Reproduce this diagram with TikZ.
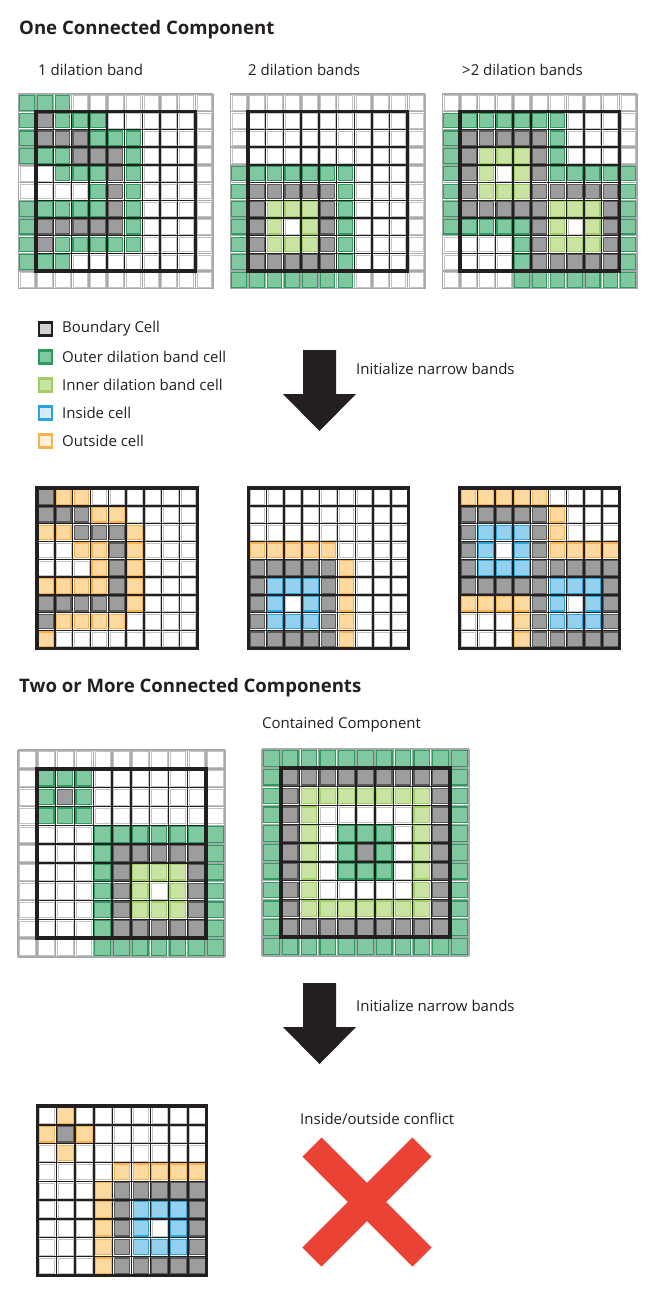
\documentclass[tikz,border=0pt]{standalone}
\usepackage{fontspec}
\setmainfont{Open Sans}
\usetikzlibrary{positioning}

\definecolor{ink}{HTML}{231F20}
\definecolor{gridgray}{HTML}{A7A9AC}
\definecolor{outerfill}{HTML}{80C9A0}
\definecolor{outerline}{HTML}{2E9B5E}
\definecolor{innerfill}{HTML}{C9E3A2}
\definecolor{innerline}{HTML}{9FCE63}
\definecolor{bndfill}{HTML}{9D9D9D}
\definecolor{bndline}{HTML}{5A5A5A}
\definecolor{insfill}{HTML}{93D1EE}
\definecolor{insline}{HTML}{2EA3D8}
\definecolor{outfill}{HTML}{FDD9A0}
\definecolor{outline}{HTML}{F7B24F}
\definecolor{crossred}{HTML}{EA4335}

\tikzset{
  cellW/.style={fill=white, draw=gridgray!70, line width=0.6},
  cellG/.style={fill=outerfill, draw=outerline, line width=1.1},
  cellL/.style={fill=innerfill, draw=innerline, line width=1.1},
  cellB/.style={fill=bndfill, draw=bndline, line width=1.1},
  cellI/.style={fill=insfill, draw=insline, line width=1.1},
  cellO/.style={fill=outfill, draw=outline, line width=1.1},
  thinline/.style={draw=gridgray, line width=1.4},
  darkline/.style={draw=ink, line width=1.4},
  frame/.style={draw=ink, line width=3.4},
  label/.style={anchor=west, inner sep=0pt, text=ink, font=\fontsize{15}{18}\selectfont},
  title/.style={anchor=west, inner sep=0pt, text=ink, font=\fontsize{18.6}{22}\selectfont\bfseries},
  legendbox/.style={minimum size=13pt, inner sep=0pt, line width=2.2},
  bigarrow/.style={fill=ink}
}

% cells: x, y, size, rows
\newcommand{\cellrows}[4]{%
  \foreach \row [count=\j from 0] in {#4} {
    \foreach \c [count=\i from 0] in \row {
      \path[cell\c] ({#1+\i*#3+1.6},{#2+\j*#3+1.6}) rectangle ++({#3-3.2},{#3-3.2});
    }
  }
}
% 11x11 grid with bold 9x9 frame
\newcommand{\bandgrid}[4]{%
  \foreach \k in {0,...,11} {
    \path[thinline] ({#1+\k*#3},#2) -- ++(0,{11*#3});
    \path[thinline] (#1,{#2+\k*#3}) -- ++({11*#3},0);
  }
  \foreach \k in {2,...,9} {
    \path[darkline] ({#1+\k*#3},{#2+#3}) -- ++(0,{9*#3});
    \path[darkline] ({#1+#3},{#2+\k*#3}) -- ++({9*#3},0);
  }
  \cellrows{#1}{#2}{#3}{#4}
  \path[frame] ({#1+#3},{#2+#3}) rectangle ++({9*#3},{9*#3});
}
% 9x9 grid with bold frame
\newcommand{\initgrid}[4]{%
  \foreach \k in {1,...,8} {
    \path[darkline] ({#1+\k*#3},#2) -- ++(0,{9*#3});
    \path[darkline] (#1,{#2+\k*#3}) -- ++({9*#3},0);
  }
  \cellrows{#1}{#2}{#3}{#4}
  \path[frame] (#1,#2) rectangle ++({9*#3},{9*#3});
}

\begin{document}
\begin{tikzpicture}[x=1pt, y=-1pt]
  \useasboundingbox[fill=white] (0,0) rectangle (656,1294);

  % titles and labels
  \node[title] (oneTitle) at (19,30) {One Connected Component};
  \node[label] (oneBand) at (38,70) {1 dilation band};
  \node[label] (twoBand) at (248,70) {2 dilation bands};
  \node[label] (moreBand) at (462,70) {>2 dilation bands};

  % dilation bands, one component
  \bandgrid{18.3}{94}{17.7}{
    {G,G,G,W,W,W,W,W,W,W,W},
    {G,B,G,G,G,W,W,W,W,W,W},
    {G,B,B,B,G,G,G,W,W,W,W},
    {G,G,G,B,B,B,G,W,W,W,W},
    {W,W,G,G,G,B,G,W,W,W,W},
    {W,W,W,W,G,B,G,W,W,W,W},
    {G,G,G,G,G,B,G,W,W,W,W},
    {G,B,B,B,B,B,G,W,W,W,W},
    {G,B,G,G,G,G,G,W,W,W,W},
    {G,G,G,W,W,W,W,W,W,W,W},
    {W,W,W,W,W,W,W,W,W,W,W}}
  \bandgrid{230.3}{94}{17.7}{
    {W,W,W,W,W,W,W,W,W,W,W},
    {W,W,W,W,W,W,W,W,W,W,W},
    {W,W,W,W,W,W,W,W,W,W,W},
    {W,W,W,W,W,W,W,W,W,W,W},
    {G,G,G,G,G,G,G,W,W,W,W},
    {G,B,B,B,B,B,G,W,W,W,W},
    {G,B,L,L,L,B,G,W,W,W,W},
    {G,B,L,W,L,B,G,W,W,W,W},
    {G,B,L,L,L,B,G,W,W,W,W},
    {G,B,B,B,B,B,G,W,W,W,W},
    {G,G,G,G,G,G,G,W,W,W,W}}
  \bandgrid{442.3}{94}{17.7}{
    {W,W,W,W,W,W,W,W,W,W,W},
    {G,G,G,G,G,G,G,W,W,W,W},
    {G,B,B,B,B,B,G,W,W,W,W},
    {G,B,L,L,L,B,G,W,W,W,W},
    {G,B,L,W,L,B,G,G,G,G,G},
    {G,B,L,L,L,B,B,B,B,B,G},
    {G,B,B,B,B,B,L,L,L,B,G},
    {G,G,G,G,G,B,L,W,L,B,G},
    {W,W,W,W,G,B,L,L,L,B,G},
    {W,W,W,W,G,B,B,B,B,B,G},
    {W,W,W,W,G,G,G,G,G,G,G}}

  % legend
  \node[legendbox, draw=ink, fill=ink!20] (keyBnd) at (45.5,329) {};
  \node[legendbox, draw=outerline, fill=outerfill] (keyOuter) at (45.5,357) {};
  \node[legendbox, draw=innerline, fill=innerfill] (keyInner) at (45.5,385) {};
  \node[legendbox, draw=insline, fill=insfill!40] (keyIns) at (45.5,413) {};
  \node[legendbox, draw=outline, fill=outfill!40] (keyOut) at (45.5,441) {};
  \node[label] (txtBnd) at (62,329) {Boundary Cell};
  \node[label] (txtOuter) at (62,357) {Outer dilation band cell};
  \node[label] (txtInner) at (62,385) {Inner dilation band cell};
  \node[label] (txtIns) at (62,413) {Inside cell};
  \node[label] (txtOut) at (62,441) {Outside cell};

  % first arrow
  \path[bigarrow] (303,350) -- (336,350) -- (336,394) -- (356,394)
    -- (319.5,431) -- (283,394) -- (303,394) -- cycle;
  \node[label] (initOne) at (356,369) {Initialize narrow bands};

  % narrow bands, one component
  \initgrid{37}{488}{17.8}{
    {B,O,O,W,W,W,W,W,W},
    {B,B,B,O,O,W,W,W,W},
    {O,O,B,B,B,O,W,W,W},
    {W,W,O,O,B,O,W,W,W},
    {W,W,W,O,B,O,W,W,W},
    {O,O,O,O,B,O,W,W,W},
    {B,B,B,B,B,O,W,W,W},
    {B,O,O,O,O,W,W,W,W},
    {O,W,W,W,W,W,W,W,W}}
  \initgrid{248.5}{488}{17.8}{
    {W,W,W,W,W,W,W,W,W},
    {W,W,W,W,W,W,W,W,W},
    {W,W,W,W,W,W,W,W,W},
    {O,O,O,O,O,W,W,W,W},
    {B,B,B,B,B,O,W,W,W},
    {B,I,I,I,B,O,W,W,W},
    {B,I,W,I,B,O,W,W,W},
    {B,I,I,I,B,O,W,W,W},
    {B,B,B,B,B,O,W,W,W}}
  \initgrid{459.5}{488}{17.8}{
    {O,O,O,O,O,W,W,W,W},
    {B,B,B,B,B,O,W,W,W},
    {B,I,I,I,B,O,W,W,W},
    {B,I,W,I,B,O,O,O,O},
    {B,I,I,I,B,B,B,B,B},
    {B,B,B,B,B,I,I,I,B},
    {O,O,O,O,B,I,W,I,B},
    {W,W,W,O,B,I,I,I,B},
    {W,W,W,O,B,B,B,B,B}}

  % two or more components
  \node[title] (twoTitle) at (19,688) {Two or More Connected Components};
  \node[label] (contained) at (262,725) {Contained Component};

  \bandgrid{18}{750}{18.8}{
    {W,W,W,W,W,W,W,W,W,W,W},
    {W,G,G,G,W,W,W,W,W,W,W},
    {W,G,B,G,W,W,W,W,W,W,W},
    {W,G,G,G,W,W,W,W,W,W,W},
    {W,W,W,W,G,G,G,G,G,G,G},
    {W,W,W,W,G,B,B,B,B,B,G},
    {W,W,W,W,G,B,L,L,L,B,G},
    {W,W,W,W,G,B,L,W,L,B,G},
    {W,W,W,W,G,B,L,L,L,B,G},
    {W,W,W,W,G,B,B,B,B,B,G},
    {W,W,W,W,G,G,G,G,G,G,G}}
  \bandgrid{262}{749}{18.8}{
    {G,G,G,G,G,G,G,G,G,G,G},
    {G,B,B,B,B,B,B,B,B,B,G},
    {G,B,L,L,L,L,L,L,L,B,G},
    {G,B,L,W,W,W,W,W,L,B,G},
    {G,B,L,W,G,G,G,W,L,B,G},
    {G,B,L,W,G,B,G,W,L,B,G},
    {G,B,L,W,G,G,G,W,L,B,G},
    {G,B,L,W,W,W,W,W,L,B,G},
    {G,B,L,L,L,L,L,L,L,B,G},
    {G,B,B,B,B,B,B,B,B,B,G},
    {G,G,G,G,G,G,G,G,G,G,G}}

  % second arrow
  \path[bigarrow] (303,983) -- (336,983) -- (336,1027) -- (356,1027)
    -- (319.5,1064) -- (283,1027) -- (303,1027) -- cycle;
  \node[label] (initTwo) at (356,1006) {Initialize narrow bands};

  \initgrid{37.5}{1106}{18.8}{
    {W,O,W,W,W,W,W,W,W},
    {O,B,O,W,W,W,W,W,W},
    {W,O,W,W,W,W,W,W,W},
    {W,W,W,W,O,O,O,O,O},
    {W,W,W,O,B,B,B,B,B},
    {W,W,W,O,B,I,I,I,B},
    {W,W,W,O,B,I,W,I,B},
    {W,W,W,O,B,I,I,I,B},
    {W,W,W,O,B,B,B,B,B}}

  % conflict
  \node[label] (conflict) at (300,1119) {Inside/outside conflict};
  \coordinate (xA) at (312,1147);
  \coordinate (xB) at (422,1257);
  \coordinate (xC) at (422,1147);
  \coordinate (xD) at (312,1257);
  \draw[crossred, line width=27] (xA) -- (xB);
  \draw[crossred, line width=27] (xC) -- (xD);
\end{tikzpicture}
\end{document}
